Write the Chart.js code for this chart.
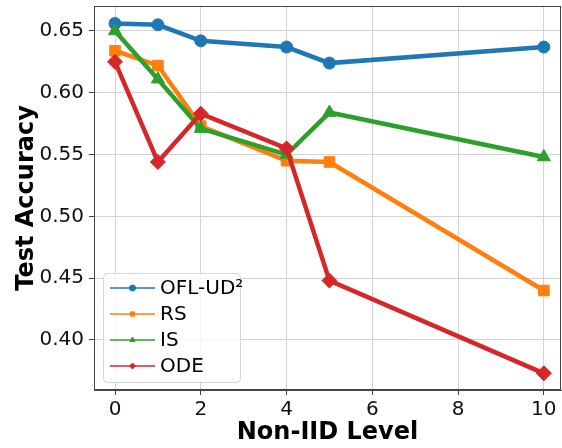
<!DOCTYPE html>
<html lang="en">
<head>
    <meta charset="UTF-8">
    <title>Test Accuracy vs Non-IID Level</title>
    <script src="https://cdn.jsdelivr.net/npm/chart.js@4.4.1/dist/chart.umd.min.js"></script>
    <style>
        html, body { margin: 0; padding: 0; background: #fff; }
        #wrap { width: 562px; height: 448px; }
    </style>
</head>
<body>
<div id="wrap">
    <canvas id="myChart" width="562" height="448"></canvas>
</div>
<script>
    // data
    var levels = [0, 1, 2, 4, 5, 10];
    var oflUd2 = [0.656, 0.655, 0.642, 0.637, 0.624, 0.637];
    var rsAcc = [0.634, 0.622, 0.573, 0.545, 0.544, 0.440];
    var isAcc = [0.650, 0.611, 0.571, 0.550, 0.584, 0.548];
    var odeAcc = [0.625, 0.544, 0.583, 0.555, 0.448, 0.373];

    var xTicks = [0, 2, 4, 6, 8, 10];
    var yTicks = [0.40, 0.45, 0.50, 0.55, 0.60, 0.65];
    var seriesNames = ["OFL-UD\u00B2", "RS", "IS", "ODE"];

    var colors = ["#1f77b4", "#ff7f0e", "#2ca02c", "#d62728"];
    var markers = ["circle", "rect", "triangle", "rectRot"];
    var markerSize = [6, 7.5, 7.5, 7.5];

    function pts(vals) {
        var out = [];
        for (var i = 0; i < levels.length; i++) {
            out.push({x: levels[i], y: vals[i]});
        }
        return out;
    }

    var allSeries = [oflUd2, rsAcc, isAcc, odeAcc];
    var datasets = [];
    for (var i = 0; i < allSeries.length; i++) {
        datasets.push({
            label: seriesNames[i],
            data: pts(allSeries[i]),
            borderColor: colors[i],
            backgroundColor: colors[i],
            pointBackgroundColor: colors[i],
            pointBorderColor: colors[i],
            pointBorderWidth: 1,
            pointStyle: markers[i],
            pointRadius: markerSize[i],
            borderWidth: 4.5,
            tension: 0,
            clip: false,
            order: 4 - i
        });
    }

    var fontFam = "'DejaVu Sans', sans-serif";

    // frame + legend box drawn inside the plot, like matplotlib
    var framePlugin = {
        id: 'frame',
        afterDraw: function(chart) {
            var ctx = chart.ctx;
            var a = chart.chartArea;
            ctx.save();
            ctx.strokeStyle = '#444';
            ctx.lineWidth = 1;
            ctx.strokeRect(a.left + 0.5, a.top + 0.5, a.right - a.left - 1, a.bottom - a.top - 1);

            // legend
            var bx = 103, by = 273, bw = 137, bh = 109;
            ctx.beginPath();
            ctx.roundRect(bx + 0.5, by + 0.5, bw, bh, 4);
            ctx.fillStyle = 'rgba(255,255,255,0.8)';
            ctx.fill();
            ctx.strokeStyle = '#d6d6d6';
            ctx.stroke();

            ctx.font = "20px " + fontFam;
            ctx.textBaseline = 'middle';
            for (var k = 0; k < seriesNames.length; k++) {
                var yy = 288 + k * 26;
                ctx.strokeStyle = colors[k];
                ctx.lineWidth = 1.5;
                ctx.beginPath();
                ctx.moveTo(110, yy);
                ctx.lineTo(155, yy);
                ctx.stroke();
                ctx.fillStyle = colors[k];
                ctx.strokeStyle = colors[k];
                ctx.lineWidth = 1;
                Chart.helpers.drawPoint(ctx, {pointStyle: markers[k], rotation: 0, borderWidth: 1, radius: 3}, 132.5, yy);
                ctx.fillStyle = '#000';
                ctx.fillText(seriesNames[k], 160, yy + 1);
            }
            ctx.restore();
        }
    };

    function noPad(s) {
        s.paddingTop = 0;
        s.paddingBottom = 0;
        s.paddingLeft = 0;
        s.paddingRight = 0;
    }

    var ctx = document.getElementById('myChart');
    var myChart = new Chart(ctx, {
        type: 'line',
        data: { datasets: datasets },
        options: {
            responsive: false,
            animation: false,
            layout: { autoPadding: false, padding: { top: 6, right: 1, left: 0, bottom: 0 } },
            plugins: {
                legend: { display: false },
                tooltip: { enabled: false }
            },
            scales: {
                x: {
                    type: 'linear',
                    min: -0.49,
                    max: 10.4,
                    afterBuildTicks: function(s) {
                        s.ticks = xTicks.map(function(v) { return {value: v}; });
                    },
                    afterFit: function(s) { s.height = 58; noPad(s); },
                    grid: { color: '#d3d3d3', lineWidth: 1, tickLength: 5, tickColor: '#444' },
                    border: { display: true, color: '#444', width: 1 },
                    ticks: {
                        padding: 3,
                        color: '#111',
                        maxRotation: 0,
                        font: { family: fontFam, size: 20 },
                        callback: function(v) { return v; }
                    },
                    title: {
                        display: true,
                        text: 'Non-IID Level',
                        color: '#000',
                        font: { family: fontFam, size: 24, weight: 'bold' },
                        padding: { top: 0, bottom: 1 }
                    }
                },
                y: {
                    min: 0.3595,
                    max: 0.6702,
                    afterBuildTicks: function(s) {
                        s.ticks = yTicks.map(function(v) { return {value: v}; });
                    },
                    afterFit: function(s) { s.width = 94; noPad(s); },
                    grid: { color: '#d3d3d3', lineWidth: 1, tickLength: 5, tickColor: '#444' },
                    border: { display: true, color: '#444', width: 1 },
                    ticks: {
                        padding: 5,
                        color: '#111',
                        font: { family: fontFam, size: 20 },
                        callback: function(v) { return v.toFixed(2); }
                    },
                    title: {
                        display: true,
                        text: 'Test Accuracy',
                        color: '#000',
                        font: { family: fontFam, size: 24, weight: 'bold' },
                        padding: { top: 12, bottom: 0 }
                    }
                }
            }
        },
        plugins: [framePlugin]
    });
</script>
</body>
</html>
